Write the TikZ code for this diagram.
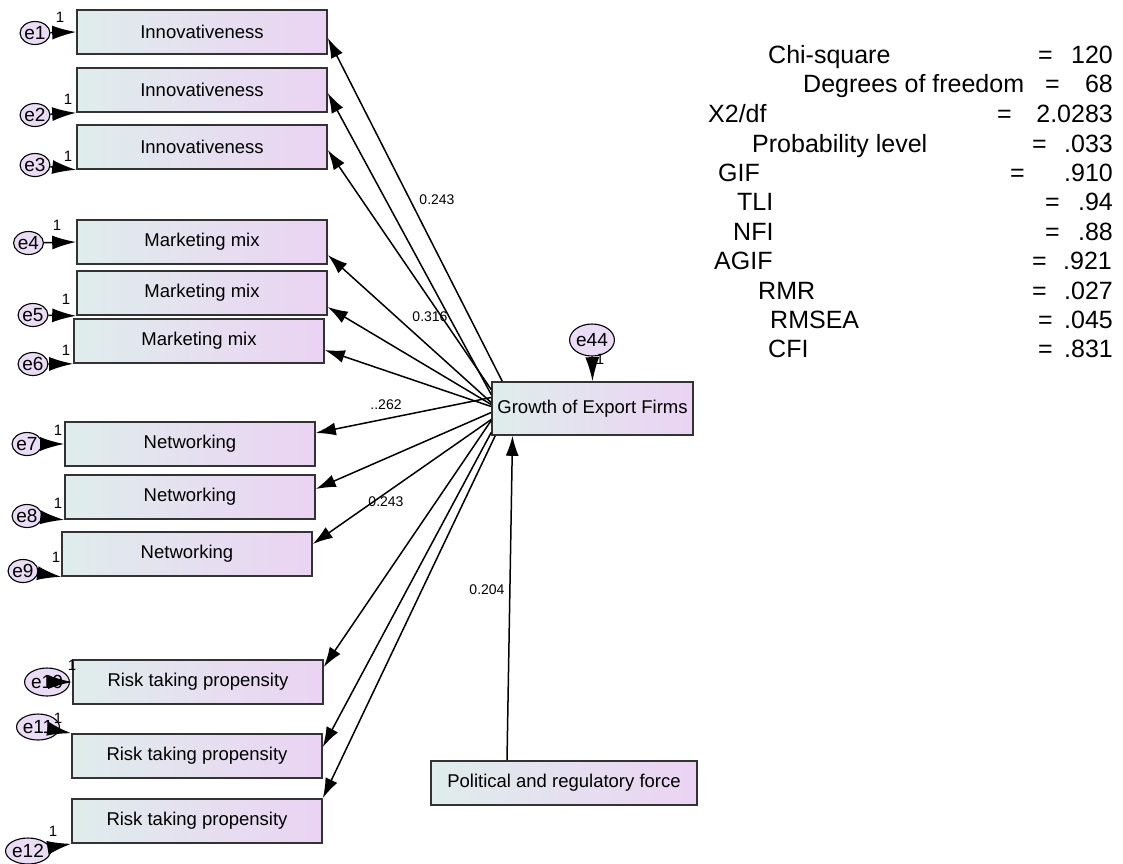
\documentclass[tikz,border=0pt]{standalone}
\usepackage{fontspec}
\setmainfont{Liberation Sans}
\usepackage{xcolor}
\usetikzlibrary{arrows.meta,shapes.geometric}
\definecolor{boxl}{HTML}{DFEDEC}
\definecolor{boxr}{HTML}{EBD3F3}
\definecolor{errc}{HTML}{EADCF4}
\tikzset{>={Latex[length=20pt,width=13pt]}}
\tikzset{obs/.style={draw=black!80,line width=1.6pt,left color=boxl,right color=boxr,
    minimum width=250pt,minimum height=44pt,inner sep=0pt,font=\fontsize{18.5}{20}\selectfont}}
\tikzset{err/.style={ellipse,draw,line width=1.1pt,fill=errc,minimum width=29pt,
    minimum height=23pt,inner sep=0pt,font=\fontsize{19}{21}\selectfont}}
\tikzset{reg/.style={->,line width=1.5pt}}
\tikzset{errarrow/.style={-{Latex[length=24pt,width=14pt]},line width=1.5pt}}
\tikzset{coef/.style={font=\fontsize{14}{16}\selectfont,inner sep=0pt}}
\tikzset{one/.style={font=\fontsize{15}{16}\selectfont,inner sep=0pt}}
\tikzset{stat/.style={font=\fontsize{25}{28}\selectfont,inner sep=0pt,anchor=base west}}
\tikzset{statval/.style={font=\fontsize{25}{28}\selectfont,inner sep=0pt,anchor=base east}}

\begin{document}
\begin{tikzpicture}[x=1pt,y=-1pt]
  \fill[white] (0,0) rectangle (1123,863);
  \useasboundingbox (0,0) rectangle (1123,863);

  % Observed variables
  \node[obs] (b1) at (202,32) {Innovativeness};
  \node[obs] (b2) at (202,90) {Innovativeness};
  \node[obs] (b3) at (202,147) {Innovativeness};
  \node[obs] (b4) at (202,242) {Marketing mix};
  \node[obs] (b5) at (202,293) {Marketing mix};
  \node[obs] (b6) at (199,341) {Marketing mix};
  \node[obs] (b7) at (190,444) {Networking};
  \node[obs] (b8) at (190,497) {Networking};
  \node[obs] (b9) at (187,554) {Networking};
  \node[obs] (b10) at (198,682) {Risk taking propensity};
  \node[obs] (b11) at (197,756) {Risk taking propensity};
  \node[obs] (b12) at (197,821) {Risk taking propensity};

  \node[obs,minimum width=201pt,minimum height=53pt] (gef) at (592.5,408.5) {Growth of Export Firms};
  \node[obs,minimum width=266pt] (pol) at (564,783) {Political and regulatory force};

  % Error terms
  \node[err] (e1) at (35,33) {e1};
  \node[err] (e2) at (35,115) {e2};
  \node[err] (e3) at (35,165) {e3};
  \node[err] (e4) at (28.5,243) {e4};
  \node[err] (e5) at (33,315) {e5};
  \node[err] (e6) at (33,364) {e6};
  \node[err] (e7) at (27,444) {e7};
  \node[err] (e8) at (27,516) {e8};
  \node[err] (e9) at (23,571) {e9};
  \node[err,minimum height=28pt] (e10) at (47,682) {e10};
  \node[err,minimum height=26pt] (e11) at (38,727) {e11};
  \node[err,minimum height=26pt] (e12) at (28,851) {e12};
  \node[err,minimum width=32pt,minimum height=32pt] (e44) at (592,340) {e44};

  % Error paths
  \draw[errarrow] (e1) -- (b1.west);
  \draw[errarrow] (e2) -- (b2.south west);
  \draw[errarrow] (e3) -- (b3.south west);
  \draw[errarrow] (e4) -- (b4.west);
  \draw[errarrow] (e5) -- (b5.south west);
  \draw[errarrow] (e6) -- (b6.south west);
  \draw[errarrow] (e7) -- (b7.west);
  \draw[errarrow] (e8) -- (b8.south west);
  \draw[errarrow] (e9) -- (b9.south west);
  \draw[errarrow] (e10) -- (b10.west);
  \draw[errarrow] (e11) -- (b11.north west);
  \draw[errarrow] (e12) -- (b12.south west);
  \draw[errarrow] (e44) -- (gef.north);

  % Regression paths
  \draw[reg] ([xshift=11pt]gef.north west) -- ([yshift=-6pt]b1.east);
  \draw[reg] ([yshift=14pt]gef.west) -- ([yshift=-3pt]b2.east);
  \draw[reg] ([yshift=19pt]gef.west) -- ([yshift=-3pt]b3.east);
  \draw[reg] ([yshift=6pt]gef.west) -- ([yshift=-13pt]b4.east);
  \draw[reg] ([yshift=4pt]gef.west) -- ([yshift=-14pt]b5.east);
  \draw[reg] ([yshift=2pt]gef.west) -- ([yshift=-9pt]b6.east);
  \draw[reg] ([yshift=11pt]gef.west) -- ([yshift=11pt]b7.east);
  \draw[reg] ([yshift=-4pt]gef.west) -- ([yshift=8pt]b8.east);
  \draw[reg] ([yshift=-11pt]gef.west) -- ([yshift=10pt]b9.east);
  \draw[reg] ([yshift=-12pt]gef.west) -- ([yshift=15pt]b10.east);
  \draw[reg] ([yshift=-24pt]gef.west) -- ([yshift=9pt]b11.east);
  \draw[reg] ([xshift=4pt]gef.south west) -- (b12.north east);
  \draw[reg] ([xshift=-57pt]pol.north) -- ([xshift=-80pt]gef.south);

  % Weights
  \node[one] (w1) at (60,17) {1};
  \node[one] (w2) at (68,99) {1};
  \node[one] (w3) at (68,156) {1};
  \node[one] (w4) at (57,225) {1};
  \node[one] (w5) at (66,299) {1};
  \node[one] (w6) at (66,350) {1};
  \node[one] (w7) at (58,430) {1};
  \node[one] (w8) at (58,503) {1};
  \node[one] (w9) at (56,557) {1};
  \node[one] (w10) at (72,665) {1};
  \node[one] (w11) at (58,718) {1};
  \node[one] (w12) at (53,831) {1};
  \node[one] (w44) at (600,359) {1};

  \node[coef] (c1) at (437,200) {0.243};
  \node[coef] (c2) at (430,317) {0.316};
  \node[coef] (c3) at (386,405) {..262};
  \node[coef] (c4) at (386,502) {0.243};
  \node[coef] (c5) at (487,590) {0.204};

  % Fit indices
  \node[stat] (chi) at (768,63) {Chi-square};
  \node[stat] (chieq) at (1038,63) {=};
  \node[statval] (chiv) at (1113,63) {120};
  \node[stat] (dof) at (803,92) {Degrees of freedom};
  \node[stat] (dofeq) at (1045,92) {=};
  \node[statval] (dofv) at (1113,92) {68};
  \node[stat] (xdf) at (708,122) {X2/df};
  \node[stat] (xdfeq) at (997,122) {=};
  \node[statval] (xdfv) at (1113,122) {2.0283};
  \node[stat] (prob) at (752,152) {Probability level};
  \node[stat] (probeq) at (1032,152) {=};
  \node[statval] (probv) at (1113,152) {.033};
  \node[stat] (gif) at (718,181) {GIF};
  \node[stat] (gifeq) at (1010,181) {=};
  \node[statval] (gifv) at (1113,181) {.910};
  \node[stat] (tli) at (737,210) {TLI};
  \node[stat] (tlieq) at (1045,210) {=};
  \node[statval] (tliv) at (1113,210) {.94};
  \node[stat] (nfi) at (733,240) {NFI};
  \node[stat] (nfieq) at (1045,240) {=};
  \node[statval] (nfiv) at (1113,240) {.88};
  \node[stat] (agif) at (714,269) {AGIF};
  \node[stat] (agifeq) at (1032,269) {=};
  \node[statval] (agifv) at (1112,269) {.921};
  \node[stat] (rmr) at (758,299) {RMR};
  \node[stat] (rmreq) at (1032,299) {=};
  \node[statval] (rmrv) at (1113,299) {.027};
  \node[stat] (rmsea) at (770,328) {RMSEA};
  \node[stat] (rmseaeq) at (1038,328) {=};
  \node[statval] (rmseav) at (1113,328) {.045};
  \node[stat] (cfi) at (768,357) {CFI};
  \node[stat] (cfieq) at (1038,357) {=};
  \node[statval] (cfiv) at (1113,357) {.831};
\end{tikzpicture}
\end{document}
